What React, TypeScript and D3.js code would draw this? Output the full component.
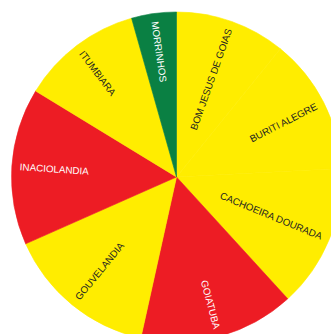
import React from "react";
import * as d3 from "d3";

const categories = [
  "BOM JESUS DE GOIAS",
  "BURITI ALEGRE",
  "CACHOEIRA DOURADA",
  "GOIATUBA",
  "GOUVELANDIA",
  "INACIOLANDIA",
  "ITUMBIARA",
  "MORRINHOS",
];
const values = [39, 48, 50.6, 54.9, 53.6, 55.3, 42.8, 15.8];
const statusColors = ["yellow", "yellow", "yellow", "red", "yellow", "red", "yellow", "green"];

const W = 331;
const H = 334;
const CX = 176.5;
const CY = 177;
const R = 165;
const LABEL_R = 157;

const palette: Record<string, string> = {
  yellow: "#FFED00",
  red: "#ED1C24",
  green: "#0A8043",
};
const textPalette: Record<string, string> = {
  yellow: "#231F20",
  red: "#FFFFFF",
  green: "#FFFFFF",
};

export default function App() {
  const data = categories.map((c, i) => ({ name: c, value: values[i], status: statusColors[i] }));
  const pie = d3
    .pie<any>()
    .value((d) => d.value)
    .sort(null)
    .startAngle(0)
    .endAngle(2 * Math.PI);
  const arcs = pie(data);
  const arcGen = d3.arc<any>().innerRadius(0).outerRadius(R);

  return (
    <svg
      width={W}
      height={H}
      style={{ position: "absolute", left: 0, top: 0, background: "#fff" }}
    >
      <g transform={`translate(${CX},${CY})`}>
        {arcs.map((a, i) => (
          <path
            key={i}
            d={arcGen(a) as string}
            fill={palette[a.data.status]}
            stroke={palette[a.data.status]}
            strokeWidth={0.6}
            strokeLinejoin="round"
          />
        ))}
        {arcs.map((a, i) => {
          const mid = (a.startAngle + a.endAngle) / 2;
          const deg = (mid * 180) / Math.PI;
          const x = LABEL_R * Math.sin(mid);
          const y = -LABEL_R * Math.cos(mid);
          const rightSide = deg < 180;
          const rot = rightSide ? deg - 90 : deg - 270;
          return (
            <text
              key={"t" + i}
              transform={`translate(${x},${y}) rotate(${rot})`}
              textAnchor={rightSide ? "end" : "start"}
              dominantBaseline="central"
              fontFamily="'Liberation Sans', Arial, sans-serif"
              fontSize={9.8}
              fill={textPalette[a.data.status]}
            >
              {a.data.name}
            </text>
          );
        })}
      </g>
    </svg>
  );
}
